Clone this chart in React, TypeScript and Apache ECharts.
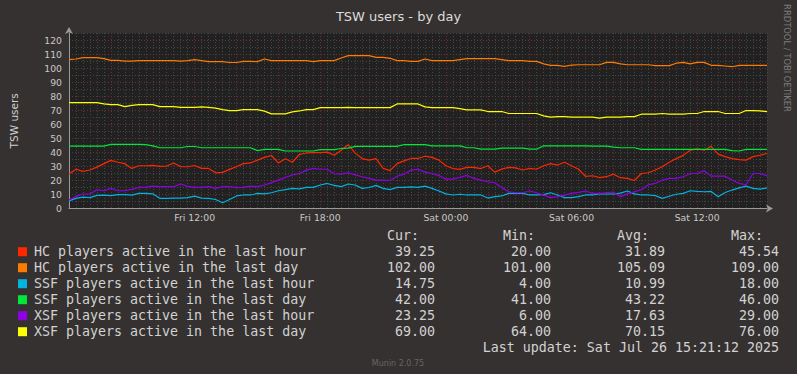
import React, { useEffect, useRef } from "react";
import * as echarts from "echarts";

// sample spacing (minutes since Fri 06:00)
const STEP_MIN = 20;
const AXIS_MAX_MIN = 2000;
const timeTicks = [360, 720, 1080, 1440, 1800];
const timeTickLabels = ["Fri 12:00", "Fri 18:00", "Sat 00:00", "Sat 06:00", "Sat 12:00"];

const seriesNames = [
  "HC players active in the last hour",
  "HC players active in the last day",
  "SSF players active in the last hour",
  "SSF players active in the last day",
  "XSF players active in the last hour",
  "XSF players active in the last day",
];
const seriesColors = ["#ff2600", "#ff7a00", "#00b4e0", "#00e63a", "#9000e6", "#ffff00"];

const hcHour = [
  24.6, 28, 26.5, 27.5, 29.5, 32, 34.3, 33, 32, 28.6, 30.5, 30.5, 30.8, 30, 30.3, 32.5, 29.8, 29.8, 30.7, 28.6, 28.6, 25.5, 25.8, 27.9, 29.8,
  32, 32.5, 34.5, 36.5, 37.8, 32.5, 35.5, 33, 38.5, 39.6, 39.8, 39.8, 40.2, 38, 41.6, 45.5, 39.5, 35.6, 34.5, 35.6, 28.6, 27, 32, 34, 35.7,
  35.7, 37.3, 36.5, 34.5, 30.5, 28.5, 27.9, 29.3, 29.3, 28.5, 30.5, 26, 28.1, 29.3, 29, 27.5, 28.6, 28, 30.5, 32, 31, 33, 30.5, 28, 23,
  23.4, 22, 22.7, 24.5, 22, 21.5, 20, 25, 25.5, 27.5, 29.8, 33, 35.6, 37.9, 41.6, 42.5, 41.6, 44.3, 38.8, 37, 35.6, 34.9, 34.5, 37, 38, 39.25,
];
const hcDay = [
  106, 106.5, 107.5, 107.5, 107.5, 106.7, 105.5, 105.5, 105, 105, 105.3, 105.3, 105.3, 105.3, 105.3, 105.3, 105, 105.3, 106, 105.3, 104.6, 104.6, 104.6, 104, 104,
  104.8, 104.8, 104.6, 106.5, 105.3, 105.3, 105.3, 105.3, 105.3, 105.3, 104.6, 105.3, 105.3, 105.3, 107.2, 108.9, 108.9, 108.9, 108.9, 107.7, 107.7, 107, 105.3, 105.3, 104.8,
  104.8, 106.5, 105.3, 105.3, 105.3, 105.3, 106, 106.7, 106.7, 106.7, 106.7, 106.7, 106, 105.3, 105.3, 105.3, 104.8, 104.8, 103, 102, 102, 101.3, 102.2, 102.4, 102.4,
  102.4, 102.4, 104.1, 104.1, 103, 102.4, 102.4, 102.4, 102.4, 101.8, 101.8, 101.8, 103.5, 104.1, 103, 104.1, 104.1, 102, 102, 101.5, 101, 102, 102, 102, 102, 102,
];
const ssfHour = [
  5.5, 7.3, 8.2, 7.8, 9.4, 9.6, 9.2, 10, 10, 9.6, 10.8, 10.8, 10.5, 7.3, 7.3, 7.5, 7.5, 7.8, 8.9, 7.5, 7.3, 6.5, 4.2, 6.5, 9,
  9.7, 9.7, 10.8, 10.5, 11.3, 12.7, 13.5, 14.4, 14, 15.1, 15.1, 16.8, 17.9, 16.5, 15.6, 17.5, 16.8, 14.4, 15, 16.5, 14.4, 13.5, 15.1, 15.1, 15.5,
  15.1, 16, 14.4, 12.5, 10.5, 9.7, 10.2, 9.7, 9.7, 9.7, 7.5, 8.5, 9, 10.8, 10.8, 10.8, 9.7, 9.7, 10, 11.3, 9.7, 7.8, 7.8, 8.5, 9.7,
  9.7, 10.4, 10.4, 10.4, 11, 12.5, 10.5, 9.7, 9.7, 9.2, 7.3, 8.8, 10.2, 10.8, 12.7, 12.2, 12, 12.2, 8.5, 11.5, 13.2, 14.8, 16, 14.4, 13.8, 14.75,
];
const ssfDay = [
  44.5, 44.5, 44.5, 44.5, 44.5, 44.5, 45.7, 45.7, 45.7, 45.7, 45.7, 45.5, 44.7, 43.3, 43.3, 43.3, 43.3, 44.2, 44.2, 43.3, 43.3, 43.3, 43.3, 43.3, 43.3,
  43.3, 43.3, 41.3, 42.1, 42.1, 42.1, 41, 41, 41, 41, 41, 42, 42, 42, 42.8, 43, 44.3, 44.3, 44.3, 44.3, 44.3, 44.3, 44.3, 45.6, 45.6,
  45.6, 45.6, 44.7, 44.7, 44.7, 44.7, 44.7, 43.3, 43.3, 42.3, 42.3, 42.3, 43, 43, 43, 43, 42.3, 42.3, 44.7, 44.7, 44.7, 44.7, 44.7, 44.7, 44.7,
  44.5, 44.5, 44.5, 43.8, 43.3, 43.3, 43.3, 42.1, 42.1, 42.1, 42.1, 42.1, 42.1, 42.1, 42.1, 42.1, 42.1, 42.1, 42.1, 42.1, 41.3, 41, 42.1, 42.1, 42.1, 42.1,
];
const xsfHour = [
  6.1, 8.5, 10.4, 10.4, 13.5, 12.7, 14.4, 12.7, 12.7, 13.7, 15.1, 15.1, 16, 15.6, 15.6, 15.6, 17.5, 15.8, 15.1, 15.1, 15.6, 14.4, 15.6, 15.6, 15,
  15.1, 16, 15.6, 16.8, 18.5, 20.3, 22.2, 23.9, 25, 27.4, 28.6, 28, 28, 24.8, 24.6, 25.5, 24, 22.7, 21.5, 20.3, 20.3, 20, 23, 24.5, 27.4,
  27.9, 26, 25, 23.5, 21, 21, 22.2, 23.6, 21.5, 20.3, 19.1, 18.4, 15, 12, 11.3, 11.3, 12.5, 11.3, 9.6, 7.8, 8.5, 9.6, 10.8, 11.5, 12.5,
  10.8, 10.8, 11.3, 11.8, 8.5, 10.5, 12, 13.5, 17, 17.9, 20.3, 21.5, 21.5, 22.7, 25, 25, 27, 23.1, 23.1, 23.1, 20.3, 17.9, 17, 25, 25, 23.25,
];
const xsfDay = [
  75.5, 75.5, 75.5, 75.5, 75.5, 74.5, 74, 74, 72.6, 73.5, 74, 74, 74, 72.6, 72.6, 72.6, 72, 72, 72, 72.4, 72, 71.5, 70.5, 69.8, 69.8,
  70.5, 70.5, 70.5, 69.4, 67.4, 67.4, 67.4, 68.8, 69.5, 70.5, 70.5, 71.9, 71.9, 71.9, 71.9, 72, 71.9, 71.9, 71.9, 71.9, 71.9, 71.9, 74.5, 74.5, 74.5,
  74.5, 72.4, 71.9, 71.9, 71.9, 71.9, 71.2, 70.3, 70.3, 70.3, 69.1, 69.1, 69.1, 67.7, 67.7, 67.7, 67.7, 67.7, 66, 65.1, 65.5, 65.5, 65.1, 65.1, 65.1,
  65.1, 64.4, 65.1, 65.1, 65.1, 65.5, 65.5, 67.2, 67.2, 67.2, 67.7, 67.2, 67.2, 67.2, 67.7, 67.7, 69.1, 69.1, 69.1, 67.7, 67.7, 67.7, 69.8, 69.8, 69.5, 69,
];
const seriesValues = [hcHour, hcDay, ssfHour, ssfDay, xsfHour, xsfDay];

const statHeaders = ["Cur:", "Min:", "Avg:", "Max:"];
const curVals = [39.25, 102.0, 14.75, 42.0, 23.25, 69.0];
const minVals = [20.0, 101.0, 4.0, 41.0, 6.0, 64.0];
const avgVals = [31.89, 105.09, 10.99, 43.22, 17.63, 70.15];
const maxVals = [45.54, 109.0, 18.0, 46.0, 29.0, 76.0];
const lastUpdate = "Last update: Sat Jul 26 15:21:12 2025";

const MONO = '"DejaVu Sans Mono", monospace';
const SANS = '"DejaVu Sans", sans-serif';
const TEXT = "#d2d2d2";
const MAJOR = "#6a3236";
const MINOR = "#464646";

export default function App() {
  const ref = useRef<HTMLDivElement>(null);
  useEffect(() => {
    document.body.style.margin = "0";
    const chart = echarts.init(ref.current!, null, { renderer: "svg" });

    const series = seriesNames.map((name, s) => ({
      name,
      type: "line",
      data: seriesValues[s].map((v, i) => [i * STEP_MIN, v]),
      showSymbol: false,
      symbol: "none",
      color: seriesColors[s],
      lineStyle: { color: seriesColors[s], width: 1.2 },
      emphasis: { disabled: true },
      z: 3,
    }));

    const statCols = [curVals, minVals, avgVals, maxVals];
    const colRight = [435, 551, 665, 779];
    const headerLeft = [387, 503, 617, 731];
    const rowY0 = 251.7;
    const rowH = 16;
    const graphics: any[] = [];
    statHeaders.forEach((h, c) => {
      graphics.push({
        type: "text",
        x: headerLeft[c],
        y: 235.5,
        style: { text: h, fill: TEXT, fontFamily: MONO, fontSize: 13.3, align: "left", verticalAlign: "middle" },
      });
    });
    statCols.forEach((col, c) => {
      col.forEach((v, r) => {
        graphics.push({
          type: "text",
          x: colRight[c],
          y: rowY0 + r * rowH,
          style: { text: v.toFixed(2), fill: TEXT, fontFamily: MONO, fontSize: 13.3, align: "right", verticalAlign: "middle" },
        });
      });
    });
    graphics.push({
      type: "text",
      x: 779,
      y: rowY0 + 6 * rowH,
      style: { text: lastUpdate, fill: TEXT, fontFamily: MONO, fontSize: 13.3, align: "right", verticalAlign: "middle" },
    });
    graphics.push({
      type: "text",
      x: 787,
      y: 58,
      rotation: -Math.PI / 2,
      style: { text: "RRDTOOL / TOBI OETIKER", fill: "#7c7c7c", fontFamily: SANS, fontSize: 8.4, align: "center", verticalAlign: "middle" },
    });
    graphics.push({
      type: "text",
      x: 398,
      y: 363,
      style: { text: "Munin 2.0.75", fill: "#666", fontFamily: SANS, fontSize: 8, align: "center", verticalAlign: "middle" },
    });

    chart.setOption({
      animation: false,
      backgroundColor: "#353130",
      title: {
        text: "TSW users - by day",
        left: "center",
        top: 5,
        textStyle: { color: "#dcdcdc", fontSize: 13, fontWeight: "normal", fontFamily: SANS },
      },
      grid: {
        left: 67,
        top: 33,
        width: 700,
        height: 175.6,
        show: true,
        backgroundColor: "#202120",
        borderWidth: 0,
      },
      xAxis: {
        type: "value",
        min: 0,
        max: AXIS_MAX_MIN,
        interval: STEP_MIN,
        axisLine: {
          show: true,
          lineStyle: { color: "#9a9a9a", width: 1 },
          symbol: ["none", "arrow"],
          symbolSize: [6, 7],
          symbolOffset: [0, 6],
        },
        axisTick: { show: false },
        axisLabel: {
          color: "#c8c8c8",
          fontSize: 9.3,
          fontFamily: SANS,
          margin: 4,
          formatter: (v: number) => {
            const i = timeTicks.indexOf(Math.round(v));
            return i >= 0 ? timeTickLabels[i] : "";
          },
        },
        splitLine: {
          show: true,
          lineStyle: { color: [MAJOR, MINOR, MINOR, MINOR, MINOR, MINOR], type: [1, 2], width: 1 },
        },
      },
      yAxis: {
        type: "value",
        min: 0,
        max: 125,
        interval: 5,
        name: "TSW users",
        nameLocation: "middle",
        nameGap: 50,
        nameRotate: 90,
        nameTextStyle: { color: "#d0d0d0", fontSize: 10.5, fontFamily: SANS },
        axisLine: {
          show: true,
          lineStyle: { color: "#9a9a9a", width: 1 },
          symbol: ["none", "arrow"],
          symbolSize: [6, 7],
          symbolOffset: [0, 6],
        },
        axisTick: { show: false },
        axisLabel: {
          color: "#c8c8c8",
          fontSize: 9.3,
          fontFamily: SANS,
          margin: 7,
          formatter: (v: number) => (v % 10 === 0 && v <= 120 ? String(v) : ""),
        },
        splitLine: {
          show: true,
          lineStyle: { color: [MAJOR, MINOR], type: [1, 2], width: 1 },
        },
      },
      legend: {
        orient: "vertical",
        left: 18,
        top: 243.7,
        padding: 0,
        itemWidth: 9,
        itemHeight: 9,
        itemGap: 0,
        icon: "rect",
        selectedMode: false,
        data: seriesNames,
        textStyle: { color: TEXT, fontFamily: MONO, fontSize: 13.3, lineHeight: 16, padding: [0, 0, 0, 2] },
      },
      graphic: graphics,
      series,
    });
    return () => chart.dispose();
  }, []);
  return <div ref={ref} style={{ width: 797, height: 374 }} />;
}
